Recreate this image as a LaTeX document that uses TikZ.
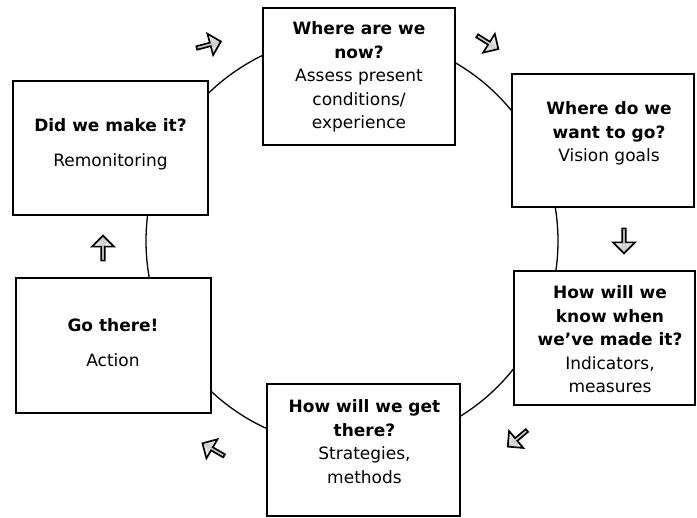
\documentclass[tikz,border=0pt]{standalone}
\usepackage{fontspec}
\setmainfont{DejaVu Sans}
\usetikzlibrary{shapes.arrows}
\begin{document}
\begin{tikzpicture}[x=1pt,y=-1pt,
  stagebox/.style={draw=black, line width=1.5pt, fill=white, rectangle, inner sep=0pt},
  stagetext/.style={align=center, inner sep=0pt, font=\fontsize{17}{23.5}\selectfont},
  flowarrow/.style={single arrow, draw=black, line width=1.7pt, inner sep=0pt,
    minimum height=25pt, minimum width=22pt, single arrow head extend=4.5pt,
    top color=white, bottom color=white, middle color=gray!40},
  cyclering/.style={line width=1.3pt}
]
\fill[white] (0,0) rectangle (697,518);
\useasboundingbox (0,0) rectangle (697,518);

% the cycle ring behind the stages
\coordinate (O) at (352,241);
\draw[cyclering] (O) circle[radius=206pt];

% stage boxes
\node[stagebox, minimum width=192pt, minimum height=137pt] (A) at (359,76.5) {};
\node[stagebox, minimum width=182pt, minimum height=133pt] (B) at (603,140.5) {};
\node[stagebox, minimum width=181pt, minimum height=134pt] (C) at (604.5,338) {};
\node[stagebox, minimum width=193pt, minimum height=132pt] (D) at (363.5,450) {};
\node[stagebox, minimum width=195pt, minimum height=135pt] (E) at (113.5,345.5) {};
\node[stagebox, minimum width=195pt, minimum height=134pt] (F) at (110.5,148) {};

% stage texts
\node[stagetext] (At) at (359,77) {\textbf{Where are we}\\\textbf{now?}\\Assess present\\conditions/\\experience};
\node[stagetext] (Bt) at (609,133.5) {\textbf{Where do we}\\\textbf{want to go?}\\Vision goals};
\node[stagetext] (Ct) at (610,339.5) {\textbf{How will we}\\\textbf{know when}\\\textbf{we’ve made it?}\\Indicators,\\measures};
\node[stagetext] (Dt) at (364.5,441.5) {\textbf{How will we get}\\\textbf{there?}\\Strategies,\\methods};
\node[stagetext] (Et) at (113,342.5) {\textbf{Go there!}\\[11.5pt]Action};
\node[stagetext] (Ft) at (110.5,144.5) {\textbf{Did we make it?}\\[11.5pt]Remonitoring};

% direction arrows along the ring
\node[flowarrow, rotate=15, shading angle=15] (a1) at (208,45) {};
\node[flowarrow, rotate=-32, shading angle=-32] (a2) at (487,42) {};
\node[flowarrow, rotate=-90, shading angle=-90] (a3) at (624,240) {};
\node[flowarrow, rotate=-140, shading angle=-140] (a4) at (518,438) {};
\node[flowarrow, rotate=150, shading angle=150] (a5) at (214,450) {};
\node[flowarrow, rotate=90, shading angle=90] (a6) at (103,249) {};
\end{tikzpicture}
\end{document}
